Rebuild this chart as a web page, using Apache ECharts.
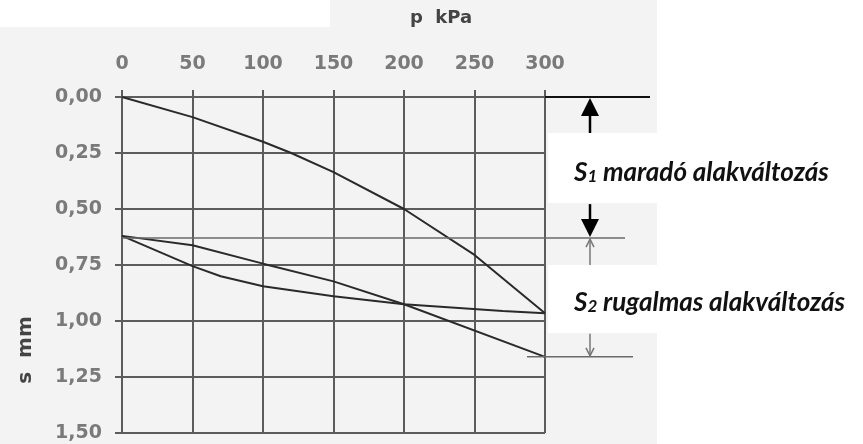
<!DOCTYPE html>
<html><head><meta charset="utf-8">
<script src="https://cdn.jsdelivr.net/npm/echarts@6/dist/echarts.min.js"></script>
<style>
html,body{margin:0;padding:0;background:#fff;}
#wrap{position:relative;width:863px;height:444px;overflow:hidden;background:#fff;}
.bg{position:absolute;}
#c{position:absolute;left:0;top:0;width:863px;height:444px;}
</style>
</head><body>
<div id="wrap">
  <div class="bg" style="left:0;top:0;width:657px;height:444px;background:#f3f3f3;"></div>
  <div class="bg" style="left:0;top:0;width:330px;height:27px;background:#fff;"></div>
  <div class="bg" style="left:548px;top:133px;width:315px;height:70px;background:#fff;"></div>
  <div class="bg" style="left:548px;top:265px;width:315px;height:68px;background:#fff;"></div>
  <div id="c"></div>
</div>
<script>
// ---- data ----
const pLoad   = [0, 50, 100, 120, 150, 200, 250, 300];
const sLoad   = [0, 0.09, 0.20, 0.25, 0.335, 0.50, 0.705, 0.965];
const pUnload = [300, 270, 200, 150, 100, 70, 50, 0];
const sUnload = [0.965, 0.955, 0.925, 0.89, 0.845, 0.80, 0.755, 0.62];
const pReload = [0, 50, 100, 150, 200, 300];
const sReload = [0.62, 0.662, 0.744, 0.823, 0.925, 1.16];
const xTickLabels = ['0', '50', '100', '150', '200', '250', '300'];
const yTickLabels = ['0,00', '0,25', '0,50', '0,75', '1,00', '1,25', '1,50'];
const s1Level = 0.63;   // remaining deformation level
const s2Level = 1.16;   // total after reload
const xTitle = 'p  kPa';
const yTitle = 's  mm';
const s1Text = ['S', '1', 'maradó alakváltozás'];
const s2Text = ['S', '2', 'rugalmas alakváltozás'];

const zip = (a, b) => a.map((v, i) => [v, b[i]]);
const GRID = '#5c5c5c';
const LABEL = '#7a7a7a';
const FONT = 'DejaVu Sans';

const chart = echarts.init(document.getElementById('c'), null, {renderer: 'canvas'});
const lineSeries = (name, d) => ({
  name, type: 'line', data: d, showSymbol: false, symbol: 'none',
  lineStyle: {color: '#2a2a2a', width: 2}, z: 5, clip: false
});
chart.setOption({
  animation: false,
  backgroundColor: 'transparent',
  grid: {left: 122, top: 97, width: 423, height: 336, show: false},
  xAxis: {
    type: 'value', position: 'top', min: 0, max: 300, interval: 50,
    axisLine: {show: true, lineStyle: {color: GRID, width: 2}},
    axisTick: {show: true, inside: false, length: 7, lineStyle: {color: GRID, width: 2}},
    splitLine: {show: true, lineStyle: {color: GRID, width: 2}},
    axisLabel: {color: LABEL, fontSize: 19, fontWeight: 'bold', fontFamily: FONT, margin: 23,
      formatter: v => xTickLabels[Math.round(v / 50)]}
  },
  yAxis: {
    type: 'value', inverse: true, min: 0, max: 1.5, interval: 0.25,
    axisLine: {show: true, lineStyle: {color: GRID, width: 2}},
    axisTick: {show: true, inside: false, length: 7, lineStyle: {color: GRID, width: 2}},
    splitLine: {show: true, lineStyle: {color: GRID, width: 2}},
    axisLabel: {color: LABEL, fontSize: 19, fontWeight: 'bold', fontFamily: FONT, margin: 20,
      formatter: v => yTickLabels[Math.round(v / 0.25)]}
  },
  series: [
    lineSeries('loading', zip(pLoad, sLoad)),
    lineSeries('unloading', zip(pUnload, sUnload)),
    lineSeries('reloading', zip(pReload, sReload))
  ]
});

// ---- annotations positioned through the chart's scales ----
const px = (p, s) => chart.convertToPixel({gridIndex: 0}, [p, s]);
const [x0, y0] = px(0, 0);
const [x300, yTop] = px(300, 0);
const yS1 = px(0, s1Level)[1];
const yS2 = px(0, s2Level)[1];
const ax = x300 + 45; // arrow column

const line = (x1, y1, x2, y2, color, w) => ({
  type: 'line', shape: {x1, y1, x2, y2}, style: {stroke: color, lineWidth: w}, z: 10
});
const tri = (pts, color) => ({type: 'polygon', shape: {points: pts}, style: {fill: color}, z: 10});
const chevron = (x, y, dir, color) => ({
  type: 'polyline', shape: {points: [[x - 4, y - dir * 8], [x, y], [x + 4, y - dir * 8]]},
  style: {stroke: color, lineWidth: 1.5, fill: null}, z: 10
});
const RF = {fontFamily: 'Lato', fontStyle: 'italic', fontWeight: 'bold', fill: '#111', verticalAlign: 'bottom'};
const subText = (t, x, y) => ({
  type: 'text', x, y, z: 10,
  style: {
    text: '{a|' + t[0] + '}{b|' + t[1] + '}{c| ' + t[2] + '}',
    rich: {
      a: Object.assign({fontSize: 26, lineHeight: 31}, RF),
      b: Object.assign({fontSize: 17, lineHeight: 26}, RF),
      c: Object.assign({fontSize: 26, lineHeight: 31}, RF)
    },
    verticalAlign: 'middle', align: 'left'
  }
});

chart.setOption({
  graphic: [
    // axis titles
    {type: 'text', x: 441, y: 18, z: 10,
      style: {text: xTitle, fontFamily: FONT, fontWeight: 'bold', fontSize: 18, fill: '#444', align: 'center', verticalAlign: 'middle'}},
    {type: 'text', x: 26, y: 350, rotation: Math.PI / 2, z: 10,
      style: {text: yTitle, fontFamily: FONT, fontWeight: 'bold', fontSize: 20, fill: '#444', align: 'center', verticalAlign: 'middle'}},
    // extension lines
    line(x300, yTop, x300 + 105, yTop, '#111', 2),
    line(x0, yS1, x300 + 80, yS1, '#6a6a6a', 1.5),
    line(x300 - 18, yS2, x300 + 88, yS2, '#6a6a6a', 1.5),
    // S1 arrows (bold)
    line(ax, yTop + 16, ax, yTop + 36, '#000', 2.5),
    tri([[ax, yTop + 1], [ax - 9, yTop + 19], [ax + 9, yTop + 19]], '#000'),
    line(ax, yS1 - 34, ax, yS1 - 16, '#000', 2.5),
    tri([[ax, yS1 - 1], [ax - 9, yS1 - 19], [ax + 9, yS1 - 19]], '#000'),
    // S2 arrows (thin, gray)
    line(ax, yS1 + 1, ax, yS1 + 27, '#777', 1.5),
    chevron(ax, yS1 + 1, -1, '#777'),
    line(ax, yS2 - 23, ax, yS2 - 1, '#777', 1.5),
    chevron(ax, yS2 - 1, 1, '#777'),
    // labels
    subText(s1Text, 574, 170),
    subText(s2Text, 574, 300)
  ]
});
</script>
</body></html>
